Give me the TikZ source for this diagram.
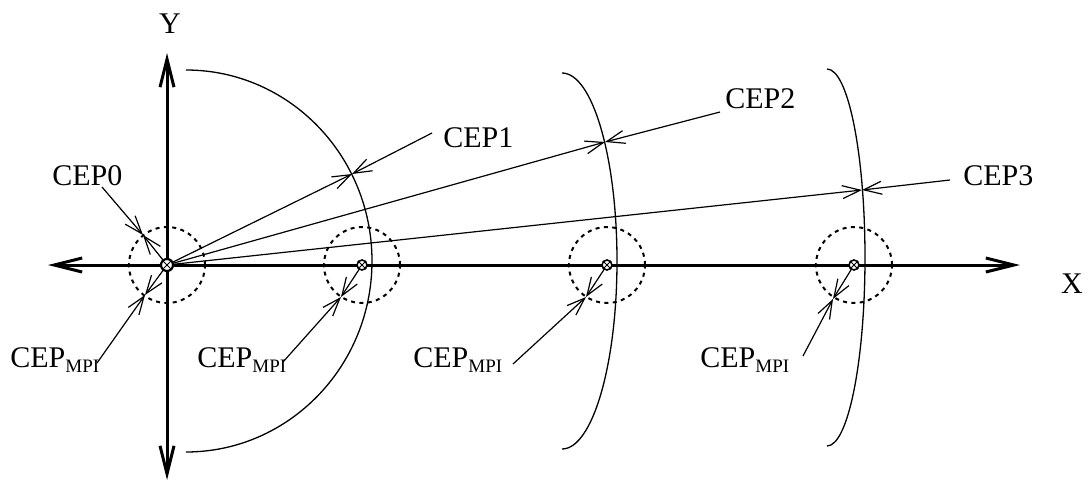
\documentclass[tikz,border=0pt]{standalone}
\usepackage{fontspec}
\setmainfont{Liberation Serif}
\usetikzlibrary{arrows.meta}
\newcommand{\mpisub}{\raisebox{-2.5pt}{\fontsize{9.5pt}{10pt}\selectfont MPI}}
\begin{document}
\begin{tikzpicture}[x=0.5pt,y=-0.5pt,
  lbl/.style={inner sep=0pt, anchor=base west, font=\fontsize{15pt}{18pt}\selectfont},
  axlbl/.style={inner sep=0pt, font=\fontsize{15pt}{18pt}\selectfont},
  thinline/.style={line width=0.6pt},
  arrowtip/.style={-{Straight Barb[length=9pt,width=6.5pt]}},
  axisline/.style={line width=1.5pt, {Straight Barb[length=14pt,width=7pt]}-{Straight Barb[length=14pt,width=7pt]}},
  cepcircle/.style={line width=1pt, dash pattern=on 2pt off 2.2pt},
  arcline/.style={line width=0.65pt},
  marker/.style={circle, draw, line width=0.8pt, minimum size=5pt, inner sep=0pt, fill=white}
]
\useasboundingbox (0,0) rectangle (1089,482);

% axes
\coordinate (xl) at (48,265);
\coordinate (xr) at (1020,265);
\coordinate (yt) at (167,53);
\coordinate (yb) at (167,480);
\draw[axisline] (xl) -- (xr);
\draw[axisline] (yb) -- (yt);
\node[axlbl] (ylab) at (170,24) {Y};
\node[axlbl] (xlab) at (1072,284) {X};

% dashed CEP_MPI circles
\draw[cepcircle] (167,265) circle[radius=19pt];
\draw[cepcircle] (362,265) circle[radius=19pt];
\draw[cepcircle] (607,265) circle[radius=19pt];
\draw[cepcircle] (854,265) circle[radius=19pt];

% arcs
\draw[arcline] (186,70) arc[start angle=90,end angle=-90,x radius=93pt,y radius=95.5pt];
\draw[arcline] (562,73) arc[start angle=90,end angle=-90,x radius=27.5pt,y radius=94pt];
\draw[arcline] (827,69) arc[start angle=90,end angle=-90,x radius=19pt,y radius=94.25pt];

% markers (centres)
\coordinate (c0) at (167,265);
\coordinate (c1) at (362,265);
\coordinate (c2) at (607,265);
\coordinate (c3) at (854,265);

% points on arcs and circles
\coordinate (p1) at (352,174);
\coordinate (p2) at (605,142);
\coordinate (p3) at (862,190);
\coordinate (q0) at (143,235);
\coordinate (r0) at (145,295);
\coordinate (r1) at (341,297);
\coordinate (r2) at (586,297);
\coordinate (r3) at (833,299);

% label line starts
\coordinate (s0) at (102,187);
\coordinate (s1) at (432,133);
\coordinate (s2) at (720,112);
\coordinate (s3) at (950,180);
\coordinate (t0) at (97,363);
\coordinate (t1) at (283,362);
\coordinate (t2) at (513,364);
\coordinate (t3) at (803,356);

% labels
\node[lbl] (cep0) at (52,185) {CEP0};
\node[lbl] (cep1) at (443,147) {CEP1};
\node[lbl] (cep2) at (725,108) {CEP2};
\node[lbl] (cep3) at (963,185) {CEP3};
\node[lbl] (mpi0) at (10,367) {CEP\mpisub};
\node[lbl] (mpi1) at (197,367) {CEP\mpisub};
\node[lbl] (mpi2) at (413,367) {CEP\mpisub};
\node[lbl] (mpi3) at (700,367) {CEP\mpisub};

% rays from origin to the arcs
\draw[thinline,arrowtip] (c0) -- (p1);
\draw[thinline,arrowtip] (c0) -- (p2);
\draw[thinline,arrowtip] (c0) -- (p3);
\draw[thinline,arrowtip] (s1) -- (p1);
\draw[thinline,arrowtip] (s2) -- (p2);
\draw[thinline,arrowtip] (s3) -- (p3);

% CEP0
\draw[thinline,arrowtip] (c0) -- (q0);
\draw[thinline,arrowtip] (s0) -- (q0);

% CEP_MPI radii
\draw[thinline,arrowtip] (c0) -- (r0);
\draw[thinline,arrowtip] (t0) -- (r0);
\draw[thinline,arrowtip] (c1) -- (r1);
\draw[thinline,arrowtip] (t1) -- (r1);
\draw[thinline,arrowtip] (c2) -- (r2);
\draw[thinline,arrowtip] (t2) -- (r2);
\draw[thinline,arrowtip] (c3) -- (r3);
\draw[thinline,arrowtip] (t3) -- (r3);

% markers
\node[marker, minimum size=6pt, line width=1.1pt] (m0) at (c0) {};
\node[marker] (m1) at (c1) {};
\node[marker] (m2) at (c2) {};
\node[marker] (m3) at (c3) {};
\foreach \m in {m0,m1,m2,m3}{
  \draw[line width=0.45pt] (\m.north west) -- (\m.south east) (\m.north east) -- (\m.south west);
}
\end{tikzpicture}
\end{document}
